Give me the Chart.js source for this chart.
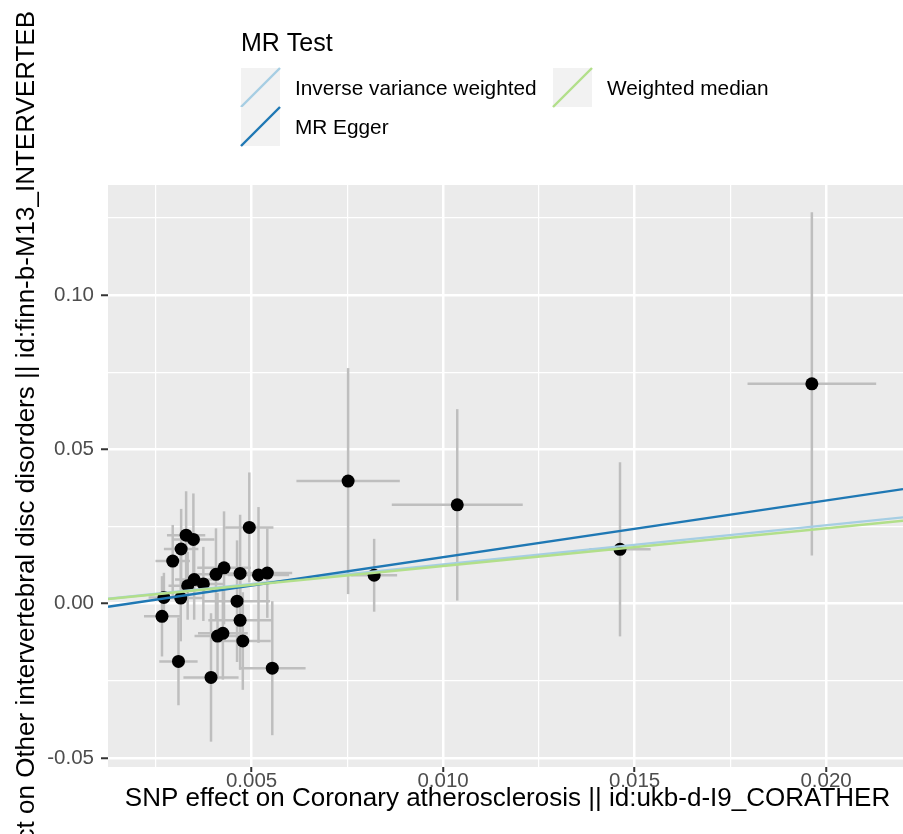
<!DOCTYPE html>
<html>
<head>
<meta charset="utf-8">
<script src="https://cdn.jsdelivr.net/npm/chart.js@4.4.1/dist/chart.umd.min.js"></script>
<style>
    html, body { margin: 0; padding: 0; background: #ffffff; }
    #wrap { width: 903px; height: 834px; position: relative; }
</style>
</head>
<body>
<div id="wrap"><canvas id="mrScatter" width="903" height="834"></canvas></div>
<script>
// SNP effects (exposure = x, outcome = y) and their standard errors
const snpX   = [0.01963, 0.01462, 0.01037, 0.00752, 0.00820, 0.00494, 0.00329, 0.00348, 0.00316, 0.00294,
                0.00428, 0.00407, 0.00470, 0.00518, 0.00541, 0.00350, 0.00374, 0.00333, 0.00271, 0.00315,
                0.00462, 0.00266, 0.00470, 0.00425, 0.00411, 0.00477, 0.00309, 0.00554, 0.00394];
const snpY   = [0.0712, 0.0176, 0.0320, 0.0397, 0.0092, 0.0247, 0.0222, 0.0208, 0.0177, 0.0138,
                0.0116, 0.0095, 0.0098, 0.0093, 0.0099, 0.0078, 0.0064, 0.0058, 0.0020, 0.0018,
                0.0008, -0.0041, -0.0054, -0.0096, -0.0105, -0.0121, -0.0187, -0.0209, -0.0239];
const snpXSe = [0.00168, 0.00080, 0.00171, 0.00135, 0.00060, 0.00063, 0.00050, 0.00055, 0.00045, 0.00045,
                0.00070, 0.00060, 0.00065, 0.00080, 0.00065, 0.00050, 0.00055, 0.00050, 0.00040, 0.00060,
                0.00086, 0.00047, 0.00083, 0.00065, 0.00060, 0.00073, 0.00050, 0.00087, 0.00072];
const snpYSe = [0.0556, 0.0282, 0.0310, 0.0366, 0.0118, 0.0178, 0.0142, 0.0149, 0.0130, 0.0117,
                0.0183, 0.0149, 0.0190, 0.0220, 0.0145, 0.0130, 0.0120, 0.0110, 0.0080, 0.0140,
                0.0197, 0.0130, 0.0160, 0.0150, 0.0140, 0.0158, 0.0142, 0.0217, 0.0208];

// MR estimates
const methodNames      = ['Inverse variance weighted', 'MR Egger', 'Weighted median'];
const methodSlopes     = [1.27, 1.836, 1.22];
const methodIntercepts = [0, -0.0033, 0];
const methodColors     = ['#a6cee3', '#1f78b4', '#b2df8a'];

// axes
const xLimits = [0.00125, 0.02201];
const yLimits = [-0.0529, 0.1356];
const xTicks  = [0.005, 0.010, 0.015, 0.020];
const yTicks  = [-0.05, 0.00, 0.05, 0.10];

const X_TITLE = 'SNP effect on Coronary atherosclerosis || id:ukb-d-I9_CORATHER';
const Y_TITLE = 'SNP effect on Other intervertebral disc disorders || id:finn-b-M13_INTERVERTEB';
const LEGEND_TITLE = 'MR Test';
const FONT = "'Liberation Sans', Arial, sans-serif";

function withMinors(majors, limits) {
    const step = majors[1] - majors[0];
    const all = [];
    majors.forEach(v => all.push(v));
    [majors[0] - step / 2].concat(majors.map(v => v + step / 2)).forEach(v => {
        if (v >= limits[0] && v <= limits[1]) all.push(v);
    });
    return all.sort((a, b) => a - b);
}

function isMajor(value, majors) {
    return majors.some(m => Math.abs(m - value) < 1e-9);
}

const methodDatasets = methodNames.map((name, i) => ({
    type: 'line',
    label: name,
    data: xLimits.map(x => ({ x: x, y: methodIntercepts[i] + methodSlopes[i] * x })),
    borderColor: methodColors[i],
    borderWidth: 2.4,
    pointRadius: 0,
    fill: false,
    order: 3 - i
}));

const panelBackground = {
    id: 'panelBackground',
    beforeDraw(chart) {
        const { ctx, chartArea: a } = chart;
        ctx.save();
        ctx.fillStyle = '#ffffff';
        ctx.fillRect(0, 0, chart.width, chart.height);
        ctx.fillStyle = '#ebebeb';
        ctx.fillRect(a.left, a.top, a.right - a.left, a.bottom - a.top);
        ctx.restore();
    }
};

const errorBars = {
    id: 'errorBars',
    beforeDatasetsDraw(chart) {
        const { ctx, chartArea: a, scales } = chart;
        ctx.save();
        ctx.beginPath();
        ctx.rect(a.left, a.top, a.right - a.left, a.bottom - a.top);
        ctx.clip();
        ctx.strokeStyle = '#bebebe';
        ctx.lineWidth = 2.5;
        snpX.forEach((x, i) => {
            const px = scales.x.getPixelForValue(x);
            ctx.beginPath();
            ctx.moveTo(px, scales.y.getPixelForValue(snpY[i] - snpYSe[i]));
            ctx.lineTo(px, scales.y.getPixelForValue(snpY[i] + snpYSe[i]));
            ctx.stroke();
        });
        snpX.forEach((x, i) => {
            const py = scales.y.getPixelForValue(snpY[i]);
            ctx.beginPath();
            ctx.moveTo(scales.x.getPixelForValue(x - snpXSe[i]), py);
            ctx.lineTo(scales.x.getPixelForValue(x + snpXSe[i]), py);
            ctx.stroke();
        });
        ctx.restore();
    }
};

const titlesAndLegend = {
    id: 'titlesAndLegend',
    afterDraw(chart) {
        const { ctx, chartArea: a } = chart;
        ctx.save();
        ctx.fillStyle = '#000000';
        ctx.textBaseline = 'alphabetic';

        // axis titles
        ctx.font = '26px ' + FONT;
        ctx.textAlign = 'center';
        ctx.fillText(X_TITLE, (a.left + a.right) / 2 + 2, 806);

        ctx.save();
        ctx.translate(34, 11);
        ctx.rotate(-Math.PI / 2);
        ctx.textAlign = 'right';
        ctx.fillText(Y_TITLE, 0, 0);
        ctx.restore();

        // legend
        ctx.font = '25px ' + FONT;
        ctx.textAlign = 'left';
        ctx.fillText(LEGEND_TITLE, 241, 51);
        const keySize = 39;
        const keyPos = [[241, 68], [241, 107], [553, 68]];
        ctx.font = '20.8px ' + FONT;
        methodNames.forEach((name, i) => {
            const [kx, ky] = keyPos[i];
            ctx.fillStyle = '#f2f2f2';
            ctx.fillRect(kx, ky, keySize, keySize);
            ctx.strokeStyle = methodColors[i];
            ctx.lineWidth = 2.4;
            ctx.beginPath();
            ctx.moveTo(kx, ky + keySize);
            ctx.lineTo(kx + keySize, ky);
            ctx.stroke();
            ctx.fillStyle = '#000000';
            ctx.fillText(name, kx + 54, ky + keySize / 2 + 7);
        });
        ctx.restore();
    }
};

function gridOptions(majors, tickLength) {
    return {
        color: '#ffffff',
        lineWidth: c => (c.tick && isMajor(c.tick.value, majors)) ? 2.5 : 1.2,
        drawTicks: true,
        tickLength: tickLength,
        tickWidth: 2,
        tickColor: c => (c.tick && isMajor(c.tick.value, majors)) ? '#333333' : 'rgba(0,0,0,0)'
    };
}

new Chart(document.getElementById('mrScatter'), {
    type: 'scatter',
    data: {
        datasets: methodDatasets.concat([{
            label: 'SNPs',
            data: snpX.map((x, i) => ({ x: x, y: snpY[i] })),
            backgroundColor: '#000000',
            borderWidth: 0,
            pointRadius: 6.5,
            pointHoverRadius: 6.5,
            order: 4
        }])
    },
    options: {
        responsive: false,
        animation: false,
        events: [],
        layout: { autoPadding: false, padding: { top: 185, left: 0, right: 0, bottom: 0 } },
        plugins: { legend: { display: false }, tooltip: { enabled: false } },
        scales: {
            x: {
                type: 'linear',
                min: xLimits[0],
                max: xLimits[1],
                border: { display: false },
                grid: gridOptions(xTicks, 5),
                afterBuildTicks: s => { s.ticks = withMinors(xTicks, xLimits).map(v => ({ value: v })); },
                afterFit: s => { s.height = 67; s.paddingLeft = 0; s.paddingRight = 0; },
                ticks: {
                    autoSkip: false,
                    maxRotation: 0,
                    padding: -3,
                    color: '#4d4d4d',
                    font: { family: FONT, size: 20.5 },
                    callback: v => isMajor(v, xTicks) ? v.toFixed(3) : ''
                }
            },
            y: {
                type: 'linear',
                min: yLimits[0],
                max: yLimits[1],
                border: { display: false },
                grid: gridOptions(yTicks, 7),
                afterBuildTicks: s => { s.ticks = withMinors(yTicks, yLimits).map(v => ({ value: v })); },
                afterFit: s => { s.width = 108; s.paddingTop = 0; s.paddingBottom = 0; },
                ticks: {
                    autoSkip: false,
                    padding: 7,
                    color: '#4d4d4d',
                    font: { family: FONT, size: 20.5 },
                    callback: v => isMajor(v, yTicks) ? v.toFixed(2) : ''
                }
            }
        }
    },
    plugins: [panelBackground, errorBars, titlesAndLegend]
});
</script>
</body>
</html>
